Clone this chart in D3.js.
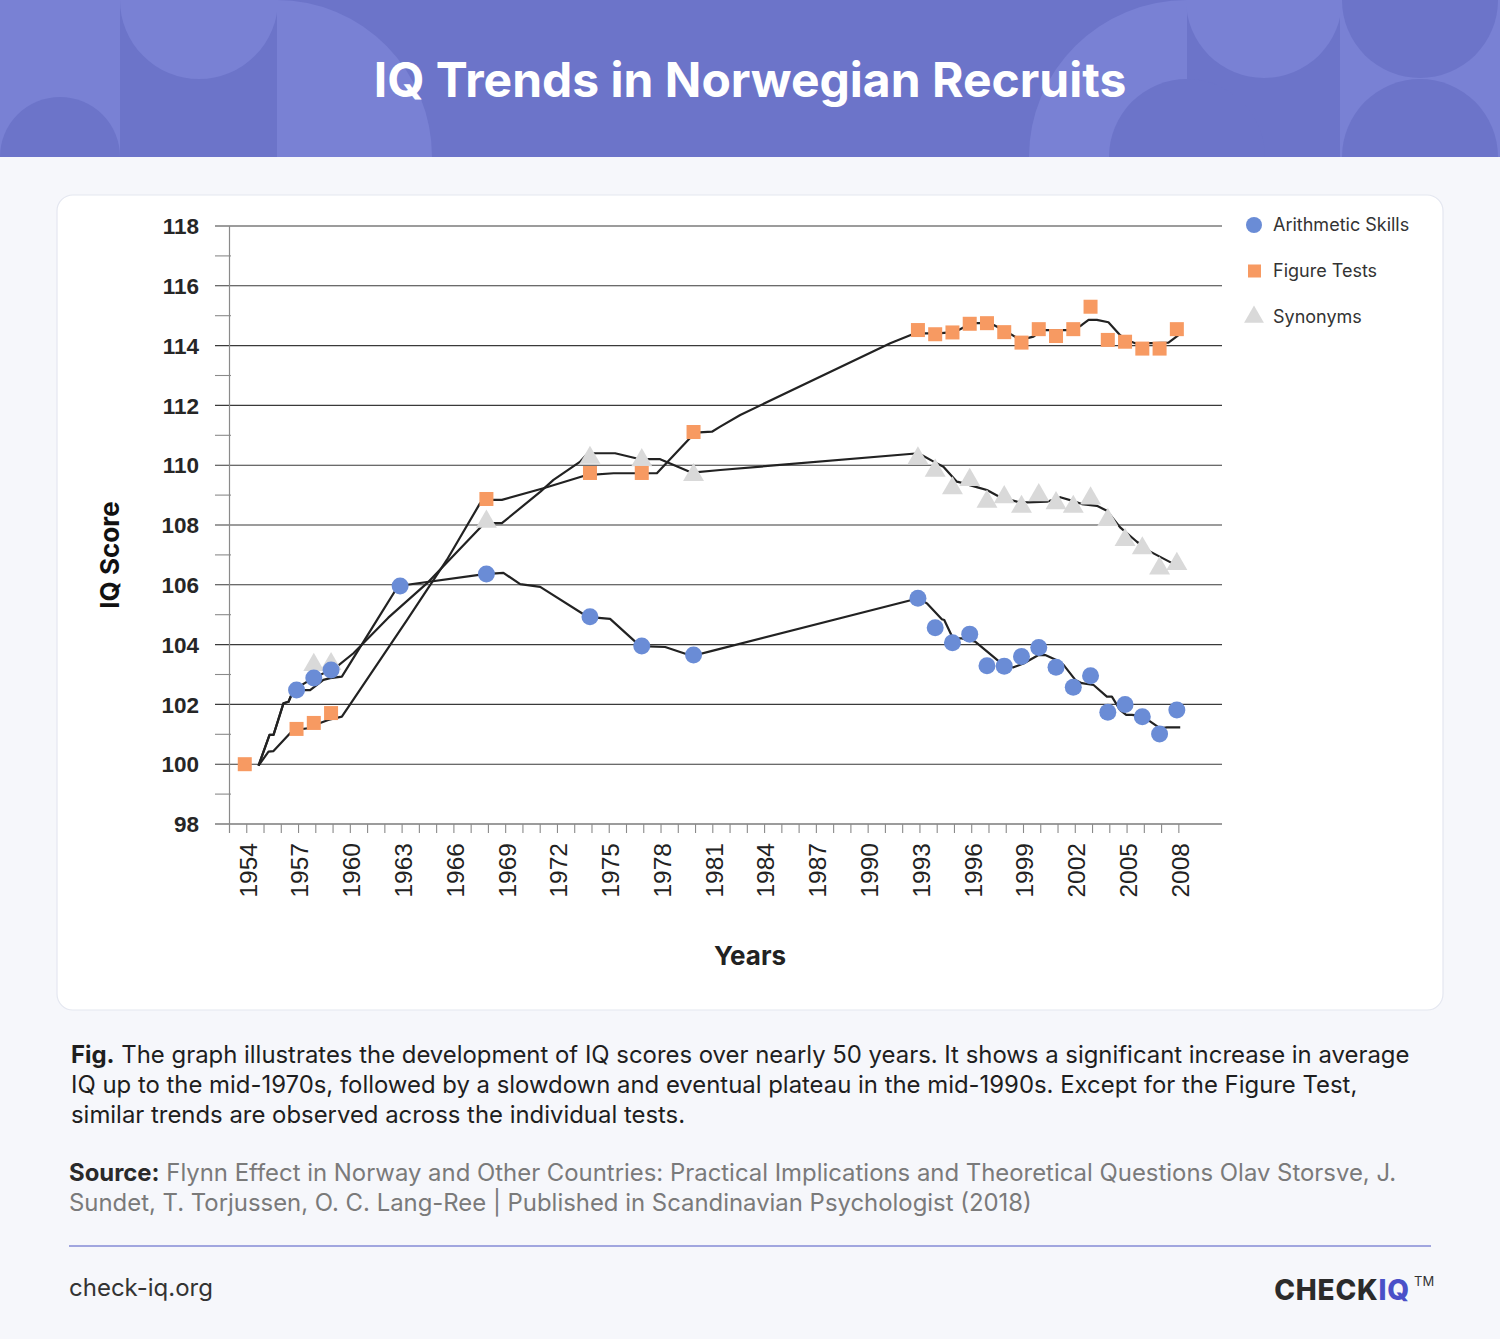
<!DOCTYPE html>
<html><head><meta charset="utf-8">
<script src="https://cdn.jsdelivr.net/npm/d3@7"></script>
<style>
html,body{margin:0;padding:0;background:#F6F7FB;}
svg{display:block;font-family:Inter, "Noto Sans", sans-serif;}
</style></head>
<body>
<svg id="c" width="1500" height="1339"></svg>
<script>
// ---------- data ----------
const yTicks = [98,100,102,104,106,108,110,112,114,116,118];
const xTickYears = d3.range(1954, 2009);
const xLabelYears = d3.range(1954, 2009, 3);

const seriesNames = ["Arithmetic Skills","Figure Tests","Synonyms"];

const arithYears  = [1957,1958,1959,1963,1968,1974,1977,1980,1993,1994,1995,1996,1997,1998,1999,2000,2001,2002,2003,2004,2005,2006,2007,2008];
const arithValues = [102.48,102.88,103.15,105.96,106.36,104.93,103.95,103.65,105.55,104.56,104.06,104.35,103.29,103.28,103.60,103.90,103.24,102.57,102.96,101.74,102.00,101.59,101.01,101.81];

const figureYears  = [1954,1957,1958,1959,1968,1974,1977,1980,1993,1994,1995,1996,1997,1998,1999,2000,2001,2002,2003,2004,2005,2006,2007,2008];
const figureValues = [100.00,101.18,101.38,101.71,108.87,109.74,109.74,111.11,114.52,114.38,114.44,114.73,114.75,114.45,114.10,114.55,114.32,114.55,115.30,114.19,114.13,113.90,113.90,114.55];

const synYears  = [1958,1959,1968,1974,1977,1980,1993,1994,1995,1996,1997,1998,1999,2000,2001,2002,2003,2004,2005,2006,2007,2008];
const synValues = [103.32,103.35,108.11,110.25,110.17,109.67,110.23,109.82,109.23,109.51,108.78,108.93,108.61,109.00,108.73,108.61,108.89,108.17,107.50,107.22,106.55,106.70];

// trend lines
const arithLineYears  = [1954.68,1955.32,1955.55,1956.13,1956.42,1956.71,1957.67,1958.44,1958.83,1959.51,1961.54,1962.77,1967.77,1968.87,1969.84,1971.0,1973.74,1975.05,1976.79,1978.24,1979.8,1980.96,1992.92,1993.4,1994.27,1994.41,1994.91,1995.43,1996.2,1997.49,1997.9,1998.42,1999.0,1999.87,2000.26,2000.93,2001.32,2002.0,2002.38,2003.06,2003.83,2004.12,2004.6,2004.95,2005.28,2005.89,2006.92,2007.31,2008.08];
const arithLineValues = [99.95,100.98,100.98,102.04,102.09,102.48,102.48,102.82,102.88,102.93,104.82,105.96,106.36,106.40,106.02,105.93,104.93,104.86,103.95,103.92,103.62,103.79,105.55,105.38,104.85,104.82,104.21,104.21,104.10,103.48,103.28,103.24,103.37,103.65,103.65,103.48,103.32,102.82,102.71,102.65,102.26,102.26,101.81,101.65,101.65,101.61,101.20,101.23,101.23];

const figureLineYears  = [1954.68,1955.26,1955.55,1956.32,1956.69,1957.67,1958.25,1958.72,1959.51,1963.28,1965.59,1967.52,1967.97,1968.78,1971.19,1973.7,1975.25,1977.76,1979.98,1980.95,1981.43,1982.59,1991.28,1992.72,1994.08,1995.04,1996.01,1997.07,1998.04,1998.81,1999.58,2000.07,2001.9,2002.38,2002.77,2003.25,2003.92,2004.6,2004.99,2005.47,2006.53,2007.4,2007.98];
const figureLineValues = [99.95,100.42,100.44,100.92,101.14,101.21,101.38,101.48,101.59,104.82,106.83,108.73,108.84,108.84,109.23,109.67,109.73,109.73,111.09,111.12,111.29,111.68,114.08,114.41,114.41,114.46,114.75,114.75,114.46,114.19,114.30,114.52,114.52,114.69,114.86,114.86,114.78,114.35,114.19,114.08,114.08,114.10,114.35];

const synLineYears  = [1954.68,1955.32,1955.55,1956.13,1956.42,1956.71,1957.67,1959.22,1960.18,1962.2,1964.53,1967.77,1968.78,1971.0,1971.77,1973.32,1973.76,1975.34,1976.79,1977.95,1979.79,1981.43,1992.92,1993.79,1994.36,1995.14,1995.43,1996.39,1996.88,1997.65,1998.62,1999.2,2000.36,2001.13,2002.0,2002.38,2003.25,2003.83,2004.6,2005.57,2006.34,2007.69];
const synLineValues = [99.95,100.98,100.98,102.04,102.09,102.48,102.82,103.26,103.71,104.9,106.10,108.06,108.06,109.11,109.51,110.12,110.40,110.40,110.20,110.20,109.75,109.84,110.40,110.12,109.95,109.45,109.41,109.25,109.17,108.93,108.78,108.76,108.78,108.93,108.78,108.70,108.64,108.48,107.92,107.44,107.11,106.70];

const titleText = "IQ Trends in Norwegian Recruits";
const captionLines = [
  ["Fig.", " The graph illustrates the development of IQ scores over nearly 50 years. It shows a significant increase in average"],
  ["", "IQ up to the mid-1970s, followed by a slowdown and eventual plateau in the mid-1990s. Except for the Figure Test,"],
  ["", "similar trends are observed across the individual tests."]
];
const sourceLines = [
  ["Source:", " Flynn Effect in Norway and Other Countries: Practical Implications and Theoretical Questions Olav Storsve, J."],
  ["", "Sundet, T. Torjussen, O. C. Lang-Ree | Published in Scandinavian Psychologist (2018)"]
];

// ---------- drawing ----------
const svg = d3.select("#c");
const W = 1500;

// header
const defs = svg.append("defs");
defs.append("clipPath").attr("id","hclip").append("rect").attr("width",W).attr("height",157);
const hdr = svg.append("g").attr("clip-path","url(#hclip)");
const dark = "#6C74C9", light = "#7981D4";
hdr.append("rect").attr("width",W).attr("height",157).attr("fill",dark);
hdr.append("rect").attr("x",0).attr("y",0).attr("width",120).attr("height",157).attr("fill",light);
hdr.append("circle").attr("cx",60).attr("cy",157).attr("r",60).attr("fill",dark);
hdr.append("circle").attr("cx",199).attr("cy",0).attr("r",79).attr("fill",light);
hdr.append("path").attr("d","M277,157 L277,0 A155,157 0 0 1 432,157 Z").attr("fill",light);
hdr.append("path").attr("d","M1187,157 L1187,0 A158,157 0 0 0 1029,157 Z").attr("fill",light);
hdr.append("circle").attr("cx",1187).attr("cy",157).attr("r",78).attr("fill",dark);
hdr.append("circle").attr("cx",1264).attr("cy",0).attr("r",78).attr("fill",light);
hdr.append("rect").attr("x",1340).attr("y",0).attr("width",160).attr("height",157).attr("fill",light);
hdr.append("circle").attr("cx",1420).attr("cy",0).attr("r",78).attr("fill",dark);
hdr.append("circle").attr("cx",1420).attr("cy",157).attr("r",78).attr("fill",dark);
hdr.append("text").attr("x",750).attr("y",97).attr("text-anchor","middle")
  .attr("fill","#fff").attr("font-size",48).attr("font-weight",700).text(titleText);

// card
svg.append("rect").attr("x",57).attr("y",195).attr("width",1386).attr("height",815)
  .attr("rx",16).attr("fill","#fff").attr("stroke","#E4E7F0").attr("stroke-width",1.2);

// scales
const x = d3.scaleLinear().domain([1953, 2010.5]).range([229.5, 1222]);
const y = d3.scaleLinear().domain([98, 118]).range([824, 226]);

const g = svg.append("g");

// gridlines
g.selectAll(".grid").data(yTicks).join("line")
  .attr("x1",215).attr("x2",1222).attr("y1",d=>y(d)).attr("y2",d=>y(d))
  .attr("stroke","#3a3a3a").attr("stroke-width",1.1);
// minor ticks on y axis
g.selectAll(".minor").data(d3.range(99,118,2)).join("line")
  .attr("x1",215).attr("x2",231).attr("y1",d=>y(d)).attr("y2",d=>y(d))
  .attr("stroke","#8a8a8a").attr("stroke-width",1.1);
// y axis line
g.append("line").attr("x1",229.5).attr("x2",229.5).attr("y1",226).attr("y2",833)
  .attr("stroke","#8a8a8a").attr("stroke-width",1.2);
// x ticks
g.selectAll(".xt").data(xTickYears).join("line")
  .attr("x1",d=>x(d)).attr("x2",d=>x(d)).attr("y1",824).attr("y2",833)
  .attr("stroke","#8a8a8a").attr("stroke-width",1.1);
// y tick labels
g.selectAll(".yl").data(yTicks).join("text")
  .attr("x",199).attr("y",d=>y(d)).attr("dy","0.36em").attr("text-anchor","end")
  .attr("font-family","'Liberation Sans', Arial, sans-serif")
  .attr("font-size",22.5).attr("font-weight",700).attr("fill","#262626").text(d=>d);
// x tick labels
g.selectAll(".xl").data(xLabelYears).join("text")
  .attr("transform",d=>`translate(${x(d)+1},843) rotate(-90)`)
  .attr("dy","0.36em").attr("text-anchor","end")
  .attr("font-family","'Liberation Sans', Arial, sans-serif")
  .attr("font-size",24.5).attr("fill","#222").text(d=>d);

// axis titles
g.append("text").attr("transform","translate(110,555) rotate(-90)").attr("text-anchor","middle")
  .attr("dy","0.36em").attr("font-size",26).attr("font-weight",700).attr("fill","#111").text("IQ Score");
g.append("text").attr("x",750).attr("y",965).attr("text-anchor","middle")
  .attr("font-size",26).attr("font-weight",700).attr("fill","#222").text("Years");

// lines
const line = d3.line().x(d=>x(d[0])).y(d=>y(d[1]));
const lineSets = [
  d3.zip(arithLineYears, arithLineValues),
  d3.zip(figureLineYears, figureLineValues),
  d3.zip(synLineYears, synLineValues)
];
g.selectAll(".trend").data(lineSets).join("path")
  .attr("d", line).attr("fill","none").attr("stroke","#222").attr("stroke-width",2.2)
  .attr("stroke-linejoin","round");

// markers
const colors = ["#6A8CD6","#F79A62","#D9D9D9"];
g.selectAll(".tri").data(d3.zip(synYears, synValues)).join("path")
  .attr("transform",d=>`translate(${x(d[0])-2},${y(d[1])})`)
  .attr("d", d3.symbol(d3.symbolTriangle, 190)()).attr("fill",colors[2]);
g.selectAll(".sq").data(d3.zip(figureYears, figureValues)).join("rect")
  .attr("x",d=>x(d[0])-9).attr("y",d=>y(d[1])-7).attr("width",14).attr("height",14)
  .attr("fill",colors[1]);
g.selectAll(".ci").data(d3.zip(arithYears, arithValues)).join("circle")
  .attr("cx",d=>x(d[0])-2).attr("cy",d=>y(d[1])).attr("r",8.5).attr("fill",colors[0]);

// legend
const lg = g.append("g");
const ly = [225, 271, 317];
lg.append("circle").attr("cx",1254).attr("cy",ly[0]).attr("r",8).attr("fill",colors[0]);
lg.append("rect").attr("x",1248).attr("y",ly[1]-6.5).attr("width",13).attr("height",13).attr("fill",colors[1]);
lg.append("path").attr("transform",`translate(1254,${ly[2]})`).attr("d",d3.symbol(d3.symbolTriangle,170)()).attr("fill",colors[2]);
lg.selectAll("text").data(seriesNames).join("text")
  .attr("x",1273).attr("y",(d,i)=>ly[i]).attr("dy","0.36em")
  .attr("font-size",18).attr("fill","#333").text(d=>d);

// caption
const cap = svg.append("text").attr("font-size",23.9).attr("fill","#1e1e1e");
captionLines.forEach((l,i)=>{
  const t = cap.append("tspan").attr("x",71).attr("y",1063+i*30);
  if(l[0]) t.append("tspan").attr("font-weight",700).text(l[0]);
  t.append("tspan").text(l[1]);
});
const src = svg.append("text").attr("font-size",23.9).attr("fill","#7a7a7a");
sourceLines.forEach((l,i)=>{
  const t = src.append("tspan").attr("x",69).attr("y",1181+i*30);
  if(l[0]) t.append("tspan").attr("font-weight",700).attr("fill","#2a2a2a").text(l[0]);
  t.append("tspan").text(l[1]);
});

// footer
svg.append("line").attr("x1",69).attr("x2",1431).attr("y1",1246).attr("y2",1246)
  .attr("stroke","#858BD6").attr("stroke-width",1.6);
svg.append("text").attr("x",69).attr("y",1296).attr("font-size",24).attr("fill","#333").text("check-iq.org");
const logo = svg.append("text").attr("x",1410).attr("y",1300).attr("text-anchor","end")
  .attr("font-size",28).attr("font-weight",800).attr("letter-spacing",0.8);
logo.append("tspan").attr("fill","#2b2b2b").text("CHECK");
logo.append("tspan").attr("fill","#4A50C8").text("IQ");
svg.append("text").attr("x",1414).attr("y",1286).attr("font-size",13).attr("fill","#333").text("TM");
</script>
</body></html>
